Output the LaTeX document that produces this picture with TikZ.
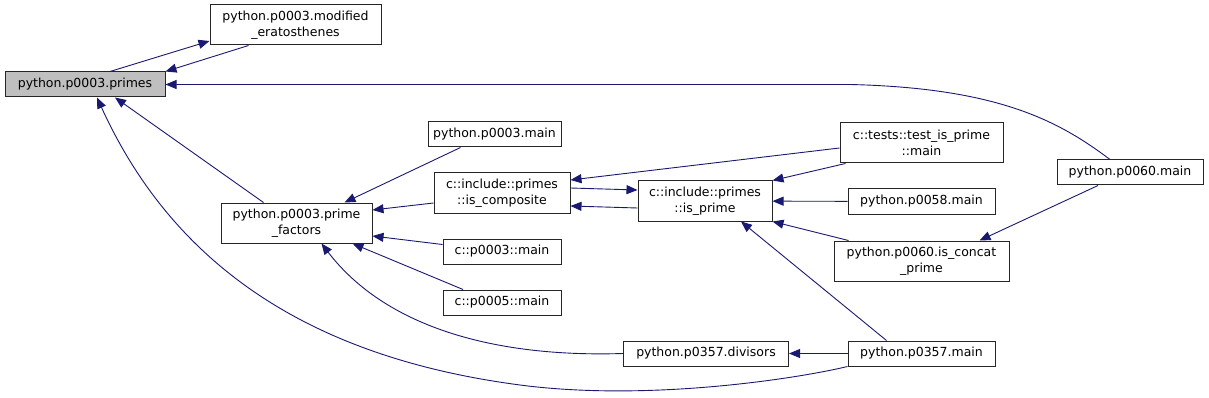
\documentclass[tikz,border=0pt]{standalone}
\usepackage{fontspec}
\setmainfont{DejaVu Sans}
\usepackage{tikz}
\usetikzlibrary{arrows.meta,positioning}
\definecolor{cEdge}{HTML}{191970}
\definecolor{cCur}{HTML}{BFBFBF}
\tikzset{
  fn/.style={draw=black!85, line width=1pt, align=center, inner sep=0pt,
             minimum height=25pt, minimum width=#1, font=\fontsize{12.5}{15.5}\selectfont},
  fn2/.style={fn=#1, minimum height=40pt},
  fcall/.style={-{Triangle[length=11pt,width=9pt]}, line width=0.9pt, draw=cEdge},
}

\begin{document}
\begin{tikzpicture}[x=1pt, y=-1pt]
\useasboundingbox (0,0) rectangle (1209,398);
% ---- column 1: the function itself
\node[fn=160pt, fill=cCur] (pr) at (85,84.5) {python.p0003.primes};
% ---- column 2
\node[fn2=171pt] (me) at (295.5,25) {python.p0003.modified\\\_eratosthenes};
\node[fn2=151pt] (pf) at (296.5,223) {python.p0003.prime\\\_factors};
% ---- column 3
\node[fn=133pt] (p3m) at (494.5,134.5) {python.p0003.main};
\node[fn2=136pt] (ic) at (502,193) {c::include::primes\\::is\_composite};
\node[fn=118pt] (cm3) at (502,251.5) {c::p0003::main};
\node[fn=118pt] (cm5) at (502,302.5) {c::p0005::main};
% ---- column 4
\node[fn2=134pt] (ip) at (705,201) {c::include::primes\\::is\_prime};
\node[fn=165pt] (dv) at (706,353.5) {python.p0357.divisors};
% ---- column 5
\node[fn2=163pt] (tip) at (921.5,143) {c::tests::test\_is\_prime\\::main};
\node[fn=147pt] (p58) at (921.5,201.5) {python.p0058.main};
\node[fn2=175pt] (icp) at (921.5,261) {python.p0060.is\_concat\\\_prime};
\node[fn=147pt] (p357) at (921.5,353.5) {python.p0357.main};
% ---- column 6
\node[fn=146pt] (p60) at (1130,172.5) {python.p0060.main};
% ---- calls into primes
\draw[fcall] ([xshift=25]pr.north) -- ([yshift=-16]me.west);
\draw[fcall] ([xshift=-47]me.south) -- (pr.north east);
\draw[fcall] ([xshift=-20]p60.north) .. controls (1060,122) and (1000,88) .. (850,84.5) -- (pr.east);
\draw[fcall] ([xshift=-33]pf.north) -- ([xshift=30]pr.south);
\draw[fcall] (p357.south west) .. controls (800,378) and (650,402) .. (520,385)
  .. controls (330,360) and (180,280) .. ([xshift=12]pr.south);
% ---- calls into prime_factors
\draw[fcall] ([xshift=-34]p3m.south) -- ([xshift=48]pf.north);
\draw[fcall] ([yshift=-10]ic.west) -- ([yshift=13]pf.east);
\draw[fcall] ([yshift=7]cm3.west) -- ([yshift=-13]pf.east);
\draw[fcall] ([xshift=-39]cm5.north) -- ([xshift=56]pf.south);
\draw[fcall] (dv.west) .. controls (480,358) and (380,320) .. ([xshift=25]pf.south);
% ---- is_composite and is_prime
\draw[fcall] ([yshift=-5]tip.west) -- ([yshift=13]ic.east);
\draw[fcall] ([yshift=5]ic.east) -- ([yshift=11]ip.west);
\draw[fcall] ([yshift=-7]ip.west) -- ([yshift=-13]ic.east);
\draw[fcall] ([xshift=-76]tip.south) -- (ip.north east);
\draw[fcall] ([xshift=-73]icp.north) -- (ip.south east);
\draw[fcall] ([xshift=-35]p357.north) -- ([xshift=36]ip.south);
\draw[fcall] ([xshift=-32]p60.south) -- ([xshift=58]icp.north);
\foreach \a/\b in {p58/ip, p357/dv} \draw[fcall] (\a) -- (\b);
\end{tikzpicture}
\end{document}
